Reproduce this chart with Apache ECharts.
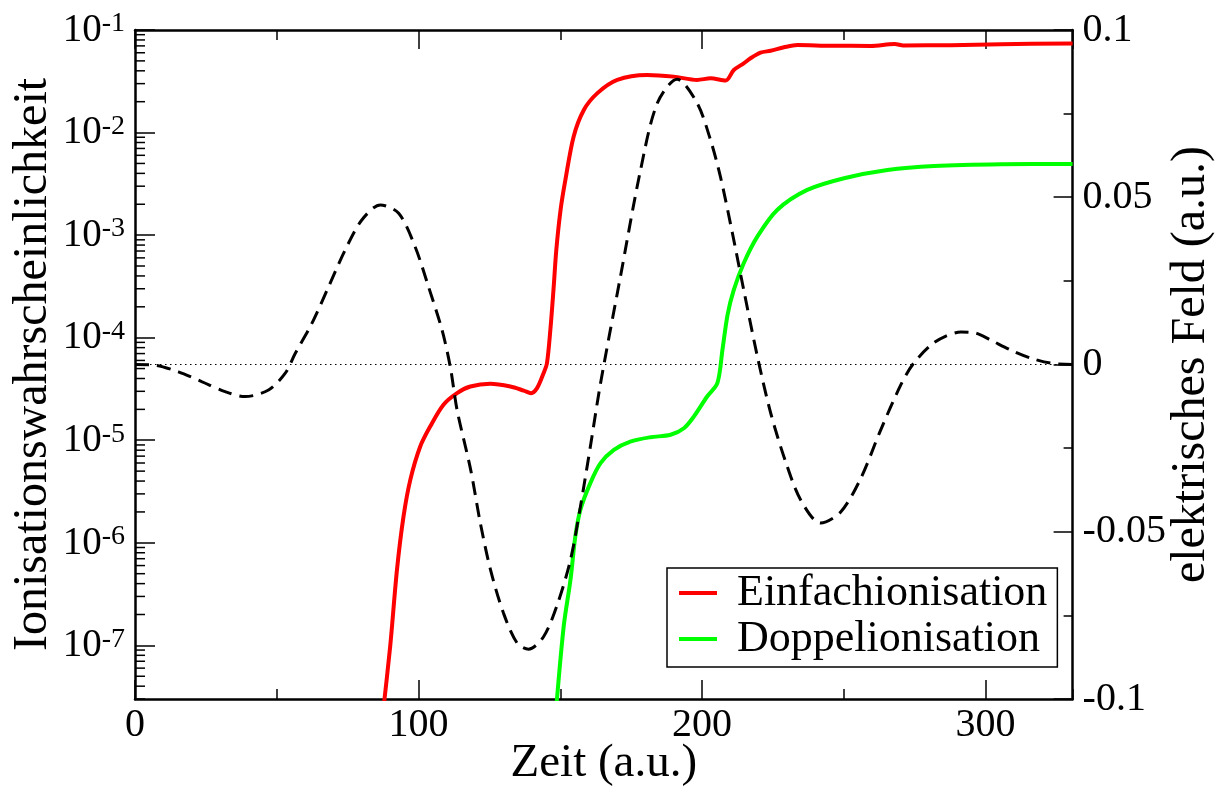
<!DOCTYPE html>
<html>
<head>
<meta charset="utf-8">
<script src="https://cdn.jsdelivr.net/npm/echarts@6/dist/echarts.min.js"></script>
<style>
html,body{margin:0;padding:0;background:#fff;}
#c{width:1226px;height:787px;}
</style>
</head>
<body>
<div id="c"></div>
<script>
// ---- data (time in a.u.) ----
const fieldT = [0, 7.1, 15.3, 23.5, 31.8, 38.8, 47.1, 53.0, 56.5, 62.4, 68.3, 74.1, 80.0, 86.5, 93.0, 98.8, 103.5, 108.3, 111.2, 113.6, 118.4, 121.8, 125.4, 130.0, 134.8, 138.8, 144.1, 148.9, 153.6, 157.1, 160.6, 164.2, 171.2, 178.3, 184.2, 191.2, 198.3, 203.0, 206.5, 210.7, 214.7, 219.8, 224.4, 229.5, 234.8, 241.8, 248.9, 256.0, 263.0, 270.1, 274.3, 280.7, 286.0, 291.3, 296.5, 301.8, 308.9, 316.0, 323.0, 330.7];
const fieldE = [0, -0.0002, -0.0022, -0.0051, -0.0081, -0.0096, -0.0076, -0.0026, 0.0033, 0.0123, 0.0233, 0.0342, 0.0432, 0.0477, 0.0452, 0.0352, 0.0233, 0.0103, -0.0007, -0.0136, -0.0315, -0.0474, -0.0614, -0.0744, -0.0833, -0.0851, -0.0814, -0.0719, -0.0584, -0.0425, -0.0246, -0.0056, 0.0262, 0.0581, 0.0781, 0.0853, 0.0781, 0.0671, 0.0561, 0.0393, 0.0223, 0.0013, -0.0151, -0.0291, -0.0405, -0.0474, -0.0441, -0.0340, -0.0196, -0.0061, 0.0, 0.0058, 0.0085, 0.0097, 0.0094, 0.0073, 0.0043, 0.0019, 0.0004, 0];

const singleT = [87.3, 90.0, 92.4, 94.7, 97.1, 100.6, 104.1, 108.8, 113.6, 118.3, 125.3, 132.4, 137.1, 139.7, 141.8, 144.1, 145.3, 146.5, 147.6, 148.6, 150.1, 151.8, 154.7, 158.3, 163.0, 170.1, 180.6, 190.0, 198.3, 203.0, 208.3, 211.2, 214.7, 217.1, 220.6, 224.2, 228.9, 233.6, 245.4, 259.5, 266.0, 268.0, 271.0, 287.7, 305.4, 330.7];
const singleP = [2.0e-8, 9.75e-8, 5.46e-7, 1.80e-6, 4.11e-6, 8.69e-6, 1.36e-5, 2.22e-5, 2.88e-5, 3.34e-5, 3.55e-5, 3.34e-5, 3.05e-5, 2.88e-5, 3.22e-5, 4.51e-5, 5.64e-5, 1.19e-4, 2.92e-4, 7.18e-4, 1.76e-3, 3.45e-3, 9.12e-3, 1.66e-2, 2.41e-2, 3.26e-2, 3.64e-2, 3.51e-2, 3.26e-2, 3.38e-2, 3.21e-2, 4.07e-2, 4.73e-2, 5.30e-2, 6.01e-2, 6.28e-2, 6.78e-2, 7.14e-2, 7.02e-2, 7.00e-2, 7.25e-2, 7.30e-2, 7.08e-2, 7.12e-2, 7.28e-2, 7.38e-2];

const doubleT = [148.3, 151.2, 153.6, 155.3, 157.1, 160.6, 164.2, 168.9, 174.7, 181.8, 188.9, 193.6, 197.1, 201.8, 205.4, 207.2, 209.0, 211.2, 214.7, 219.5, 226.5, 237.1, 250.1, 265.4, 281.8, 305.4, 330.7];
const doubleP = [2.0e-8, 1.53e-7, 4.36e-7, 1.15e-6, 2.10e-6, 3.82e-6, 5.98e-6, 8.05e-6, 9.70e-6, 1.07e-5, 1.13e-5, 1.31e-5, 1.70e-5, 2.67e-5, 3.60e-5, 7.61e-5, 1.67e-4, 2.92e-4, 5.32e-4, 9.66e-4, 1.76e-3, 2.76e-3, 3.59e-3, 4.32e-3, 4.72e-3, 4.91e-3, 4.94e-3];

const zeroT = [0, 330.7];
const zeroE = [0, 0];

const seriesNames = ['Einfachionisation', 'Doppelionisation'];
const xTitle = 'Zeit (a.u.)';
const yLeftTitle = 'Ionisationswahrscheinlichkeit';
const yRightTitle = 'elektrisches Feld (a.u.)';

// minor tick positions for the log axis (2..9 x 10^n)
const logMinor = [];
for (let e = -8; e <= -2; e++) {
  for (let m = 2; m <= 9; m++) {
    const v = m * Math.pow(10, e);
    if (v >= 3e-8 && v <= 0.1) logMinor.push(v);
  }
}

const zip = (a, b) => a.map((v, i) => [v, b[i]]);
const FONT = 'Liberation Serif';
const X_MAX = 330.7;

const chart = echarts.init(document.getElementById('c'), null, {renderer: 'canvas'});

const xBase = {
  type: 'value', min: 0, max: X_MAX,
  axisLine: {onZero: false, lineStyle: {color: '#000', width: 2.5}},
  splitLine: {show: false},
  axisTick: {inside: true, lineStyle: {color: '#000', width: 1.5}},
};

chart.setOption({
  animation: false,
  backgroundColor: '#fff',
  textStyle: {fontFamily: FONT, color: '#000'},
  grid: {left: 135, right: 153.4, top: 30, bottom: 88, containLabel: false, outerBoundsMode: 'none'},
  xAxis: [
    Object.assign({}, xBase, {
      position: 'bottom', interval: 100,
      axisTick: {inside: true, length: 19, lineStyle: {color: '#000', width: 1.5}},
      axisLabel: {showMaxLabel: false, margin: 6, color: '#000', fontFamily: FONT, fontSize: 40},
      name: xTitle, nameLocation: 'middle', nameGap: 41, nameMoveOverlap: false,
      nameTextStyle: {color: '#000', fontFamily: FONT, fontSize: 47}
    }),
    Object.assign({}, xBase, {
      position: 'bottom', interval: 50, axisLine: {show: false, onZero: false},
      axisTick: {inside: true, length: 10, lineStyle: {color: '#000', width: 1.5}},
      axisLabel: {show: false}
    }),
    Object.assign({}, xBase, {
      position: 'top', interval: 100,
      axisTick: {inside: true, length: 19, lineStyle: {color: '#000', width: 1.5}},
      axisLabel: {show: false}
    }),
    Object.assign({}, xBase, {
      position: 'top', interval: 50, axisLine: {show: false, onZero: false},
      axisTick: {inside: true, length: 10, lineStyle: {color: '#000', width: 1.5}},
      axisLabel: {show: false}
    })
  ],
  yAxis: [
    {
      type: 'log', logBase: 10, min: 3e-8, max: 0.1, position: 'left',
      axisLine: {onZero: false, lineStyle: {color: '#000', width: 2.5}},
      splitLine: {show: false},
      axisTick: {inside: true, length: 20, lineStyle: {color: '#000', width: 1.5}},
      axisLabel: {
        showMinLabel: false, margin: 10, color: '#000', fontFamily: FONT, fontSize: 39,
        formatter: function (v) {
          const e = Math.round(Math.log10(v));
          return '{b|10}{s|' + e + '}';
        },
        rich: {
          b: {fontFamily: FONT, fontSize: 39, lineHeight: 40, verticalAlign: 'bottom', padding: [22, 0, 0, 0], color: '#000'},
          s: {fontFamily: FONT, fontSize: 28, lineHeight: 28, verticalAlign: 'top', color: '#000'}
        }
      },
      name: yLeftTitle, nameLocation: 'middle', nameRotate: 90, nameGap: 78, nameMoveOverlap: false,
      nameTextStyle: {color: '#000', fontFamily: FONT, fontSize: 48}
    },
    {
      type: 'value', min: -0.1, max: 0.1, interval: 0.05, position: 'right',
      axisLine: {onZero: false, lineStyle: {color: '#000', width: 2.5}},
      splitLine: {show: false},
      axisTick: {inside: true, length: 19, lineStyle: {color: '#000', width: 1.5}},
      minorTick: {show: true, splitNumber: 2, length: 9, lineStyle: {color: '#000', width: 1.5}},
      axisLabel: {margin: 10, color: '#000', fontFamily: FONT, fontSize: 40},
      name: yRightTitle, nameLocation: 'middle', nameRotate: 90, nameGap: 95, nameMoveOverlap: false,
      nameTextStyle: {color: '#000', fontFamily: FONT, fontSize: 48}
    }
  ],
  legend: {
    orient: 'vertical', left: 667, top: 568,
    padding: [3, 10, 6, 12], itemGap: 2,
    itemWidth: 38, itemHeight: 4, icon: 'rect',
    borderColor: '#000', borderWidth: 1.5, borderRadius: 0, backgroundColor: '#fff',
    textStyle: {color: '#000', fontFamily: FONT, fontSize: 44, lineHeight: 44, padding: [0, 0, 0, 15]},
    data: seriesNames
  },
  series: [
    {
      name: 'minorLogTicks', type: 'custom', xAxisIndex: 0, yAxisIndex: 0, silent: true, clip: false, z: 5,
      data: logMinor.map(v => [0, v]),
      renderItem: function (params, api) {
        const p = api.coord([0, api.value(1)]);
        return {type: 'line', shape: {x1: p[0], y1: p[1], x2: p[0] + 10, y2: p[1]},
                style: {stroke: '#000', lineWidth: 1.5}};
      }
    },
    {
      name: 'zero', type: 'line', xAxisIndex: 0, yAxisIndex: 1, data: zip(zeroT, zeroE),
      showSymbol: false, silent: true,
      lineStyle: {color: '#000', width: 1.2, type: [1.5, 3.5]}
    },
    {
      name: seriesNames[0], type: 'line', xAxisIndex: 0, yAxisIndex: 0, data: zip(singleT, singleP),
      showSymbol: false, smooth: 0.3, color: '#ff0000',
      lineStyle: {color: '#ff0000', width: 4}
    },
    {
      name: seriesNames[1], type: 'line', xAxisIndex: 0, yAxisIndex: 0, data: zip(doubleT, doubleP),
      showSymbol: false, smooth: 0.3, color: '#00ff00',
      lineStyle: {color: '#00ff00', width: 4}
    },
    {
      name: 'Feld', type: 'line', xAxisIndex: 0, yAxisIndex: 1, data: zip(fieldT, fieldE),
      showSymbol: false, smooth: 0.3, color: '#000',
      lineStyle: {color: '#000', width: 3, type: [14, 8]}
    }
  ]
});
</script>
</body>
</html>
